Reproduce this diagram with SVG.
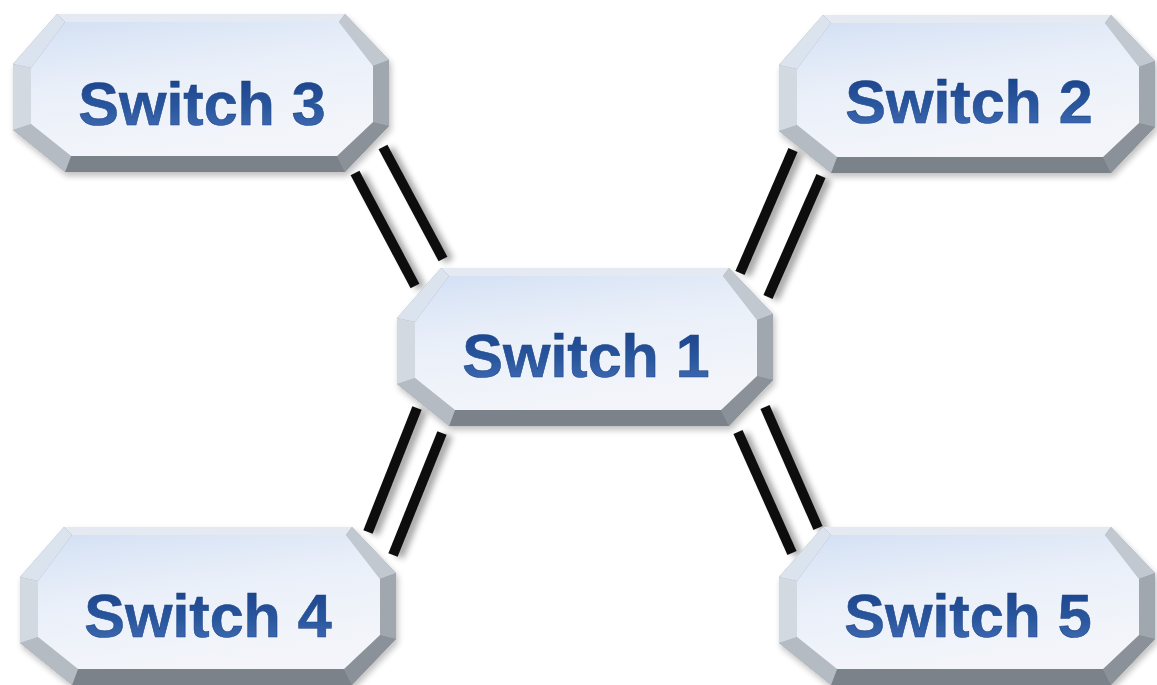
<svg xmlns="http://www.w3.org/2000/svg" width="1157" height="685" viewBox="0 0 1157 685">
<defs>
<linearGradient id="face" x1="0" y1="0" x2="0.35" y2="1">
<stop offset="0" stop-color="#d3e0f4"/>
<stop offset="0.45" stop-color="#e9eff9"/>
<stop offset="1" stop-color="#f3f5fa"/>
</linearGradient>
<linearGradient id="txt" x1="0" y1="0" x2="0" y2="1">
<stop offset="0" stop-color="#173f85"/>
<stop offset="0.55" stop-color="#2a579f"/>
<stop offset="1" stop-color="#4571b8"/>
</linearGradient>
<filter id="lshadow" x="-20%" y="-20%" width="140%" height="140%">
<feGaussianBlur in="SourceAlpha" stdDeviation="3"/>
<feOffset dx="6" dy="2" result="b"/>
<feComponentTransfer><feFuncA type="linear" slope="0.35"/></feComponentTransfer>
<feMerge><feMergeNode/><feMergeNode in="SourceGraphic"/></feMerge>
</filter>
<filter id="nshadow" x="-5%" y="-5%" width="110%" height="115%">
<feGaussianBlur in="SourceAlpha" stdDeviation="3"/>
<feOffset dx="2" dy="4"/>
<feComponentTransfer><feFuncA type="linear" slope="0.25"/></feComponentTransfer>
<feMerge><feMergeNode/><feMergeNode in="SourceGraphic"/></feMerge>
</filter>
<g id="box">
<polygon points="44,0 332,0 376,46 376,112 332,158 52,158 0,116 0,50" fill="#9aa0a8"/>
<polygon class="b-top" points="44,0 332,0 326,8 52,8"/>
<polygon class="b-tr" points="332,0 376,46 360,52 326,8"/>
<polygon class="b-r" points="376,46 376,112 360,108 360,52"/>
<polygon class="b-br" points="376,112 332,158 324,142 360,108"/>
<polygon class="b-bot" points="332,158 52,158 58,142 324,142"/>
<polygon class="b-bl" points="52,158 0,116 18,110 58,142"/>
<polygon class="b-l" points="0,116 0,50 18,54 18,110"/>
<polygon class="b-tl" points="0,50 44,0 52,8 18,54"/>
<polygon points="52,8 326,8 360,52 360,108 324,142 58,142 18,110 18,54" fill="url(#face)"/>
</g>
</defs>
<style>
.b-top{fill:#e4e9f2}
.b-tr{fill:#c2c8d0}
.b-r{fill:#a1a7af}
.b-br{fill:#8b9198}
.b-bot{fill:#7c8289}
.b-bl{fill:#b5bbc3}
.b-l{fill:#d3d9e1}
.b-tl{fill:#dbe3ee}
.lbl{font-family:"Liberation Sans",Arial,sans-serif;font-weight:bold;font-size:61px;fill:url(#txt);stroke:#1d4585;stroke-width:0.6;text-anchor:middle}
.wire{stroke:#111;stroke-width:10;stroke-linecap:butt}
</style>
<rect width="1157" height="685" fill="#ffffff"/>
<g id="connectors" filter="url(#lshadow)">
<line class="wire" x1="355" y1="173" x2="415" y2="286"/>
<line class="wire" x1="383" y1="147" x2="443" y2="259"/>
<line class="wire" x1="793" y1="150" x2="740" y2="273"/>
<line class="wire" x1="821" y1="176" x2="768" y2="297"/>
<line class="wire" x1="417" y1="408" x2="368" y2="532"/>
<line class="wire" x1="442" y1="433" x2="393" y2="555"/>
<line class="wire" x1="738" y1="432" x2="792" y2="553"/>
<line class="wire" x1="765" y1="407" x2="818" y2="528"/>
</g>
<g id="switch3" transform="translate(13,14)" filter="url(#nshadow)">
<use href="#box"/>
<text class="lbl" x="189" y="111">Switch 3</text>
</g>
<g id="switch2" transform="translate(779,15)" filter="url(#nshadow)">
<use href="#box"/>
<text class="lbl" x="190" y="108">Switch 2</text>
</g>
<g id="switch1" transform="translate(397,268)" filter="url(#nshadow)">
<use href="#box"/>
<text class="lbl" x="189" y="109">Switch 1</text>
</g>
<g id="switch4" transform="translate(20,527)" filter="url(#nshadow)">
<use href="#box"/>
<text class="lbl" x="188" y="110">Switch 4</text>
</g>
<g id="switch5" transform="translate(779,527)" filter="url(#nshadow)">
<use href="#box"/>
<text class="lbl" x="189" y="110">Switch 5</text>
</g>
</svg>
